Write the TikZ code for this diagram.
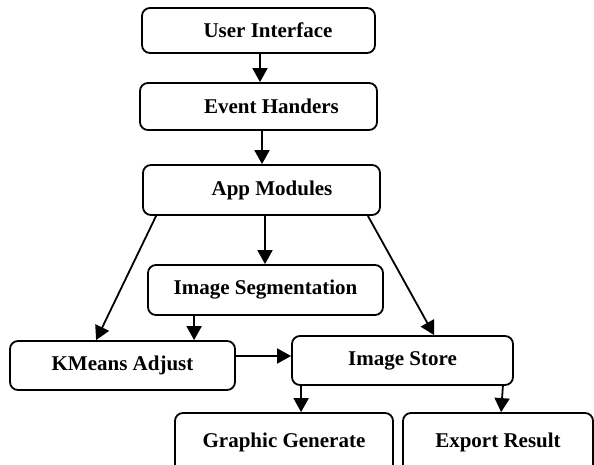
\documentclass[tikz,border=0pt]{standalone}
\usepackage{fontspec}
\setmainfont{Liberation Serif}
\usetikzlibrary{arrows.meta}
\tikzset{
  box/.style={draw, line width=1.8pt, rounded corners=8pt, inner sep=0pt,
    font=\fontsize{21}{25}\selectfont\bfseries},
  arr/.style={line width=1.8pt, -{Triangle[width=15pt,length=14pt]}}
}
\begin{document}
\begin{tikzpicture}[x=1pt,y=-1pt]
\clip (0,0) rectangle (594,464);
\fill[white] (0,0) rectangle (594,464);
\node[box, minimum width=233pt, minimum height=45pt] (ui) at (258.5,30.5) {\hspace*{19pt}User Interface};
\node[box, minimum width=237pt, minimum height=47pt] (eh) at (258.5,106.5) {\hspace*{26pt}Event Handers};
\node[box, minimum width=237pt, minimum height=50pt] (am) at (261.5,190) {\hspace*{21pt}App Modules};
\node[box, minimum width=235pt, minimum height=50pt] (is) at (265.5,290) {Image Segmentation};
\node[box, minimum width=225pt, minimum height=49pt] (km) at (122.5,365.5) {KMeans Adjust};
\node[box, minimum width=221pt, minimum height=49pt] (ist) at (402.5,360.5) {Image Store};
\node[box, minimum width=218pt, minimum height=60pt] (gg) at (284,443) {\raisebox{6pt}{Graphic Generate}};
\node[box, minimum width=190pt, minimum height=60pt] (er) at (498,443) {\raisebox{6pt}{Export Result}};
\draw[arr] ([xshift=1.5pt]ui.south) -- ([xshift=1.5pt]eh.north);
\draw[arr] ([xshift=3.5pt]eh.south) -- ([xshift=0.5pt]am.north);
\draw[arr] ([xshift=3.5pt]am.south) -- ([xshift=-0.5pt]is.north);
\draw[arr] ([xshift=47pt]is.south west) -- ([xshift=185pt]km.north west);
\draw[arr] ([xshift=14pt]am.south west) -- ([xshift=87pt]km.north west);
\draw[arr] ([xshift=-13pt]am.south east) -- ([xshift=143pt]ist.north west);
\draw[arr] ([yshift=9.5pt]km.east) -- ([yshift=4.5pt]ist.west);
\draw[arr] ([xshift=10pt]ist.south west) -- ([xshift=127pt]gg.north west);
\draw[arr] ([xshift=-11pt]ist.south east) -- ([xshift=99pt]er.north west);
\end{tikzpicture}
\end{document}
